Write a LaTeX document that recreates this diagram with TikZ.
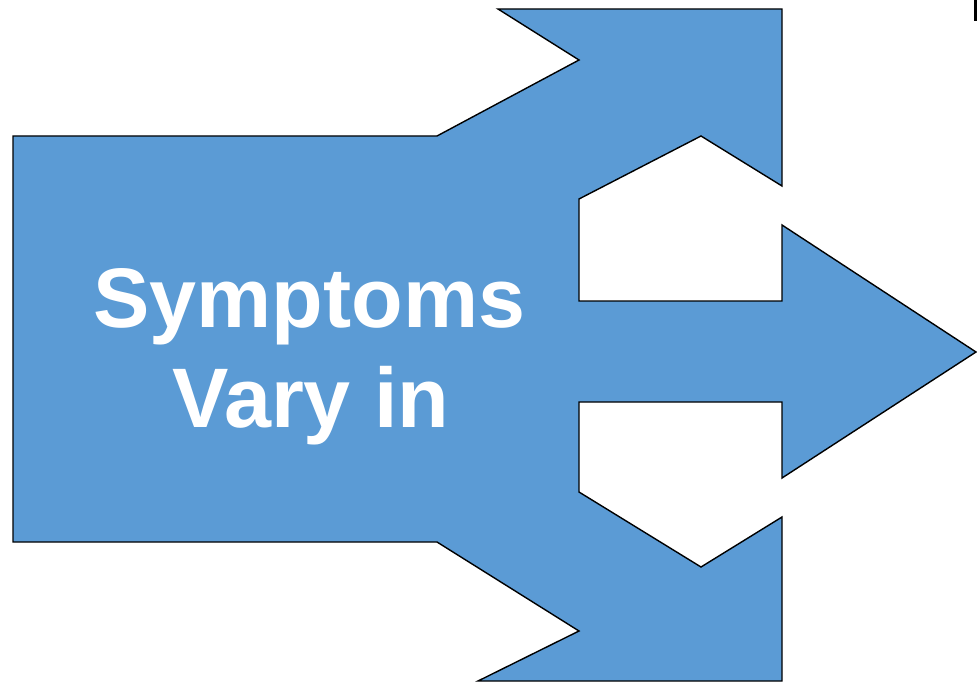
\documentclass[tikz,border=0pt]{standalone}
\usepackage{fontspec}
\setmainfont{Liberation Sans}
\definecolor{arrowblue}{HTML}{5B9BD5}
\begin{document}
\begin{tikzpicture}[x=1pt,y=-1pt,
  bigarrow/.style={fill=arrowblue,draw=black,line width=1.4pt,line join=miter},
  label/.style={text=white,font=\fontsize{84.5}{100}\selectfont\bfseries,align=center}]
\useasboundingbox (0,0) rectangle (977,682);
\draw[bigarrow]
  (13,136) -- (437,136) -- (579,60) -- (498,9) -- (782,9) -- (782,186)
  -- (701,136) -- (579,199) -- (579,301) -- (782,301) -- (782,225)
  -- (976,352) -- (782,478) -- (782,402) -- (579,402) -- (579,492)
  -- (701,567) -- (782,517) -- (782,681) -- (478,681) -- (579,631)
  -- (437,542) -- (13,542) -- cycle;
\fill[black] (974,0) rectangle (977,21);
\node[label,anchor=base] (t1) at (309.5,327) {Symptoms};
\node[label,anchor=base] (t2) at (311,427) {Vary in};
\end{tikzpicture}
\end{document}
